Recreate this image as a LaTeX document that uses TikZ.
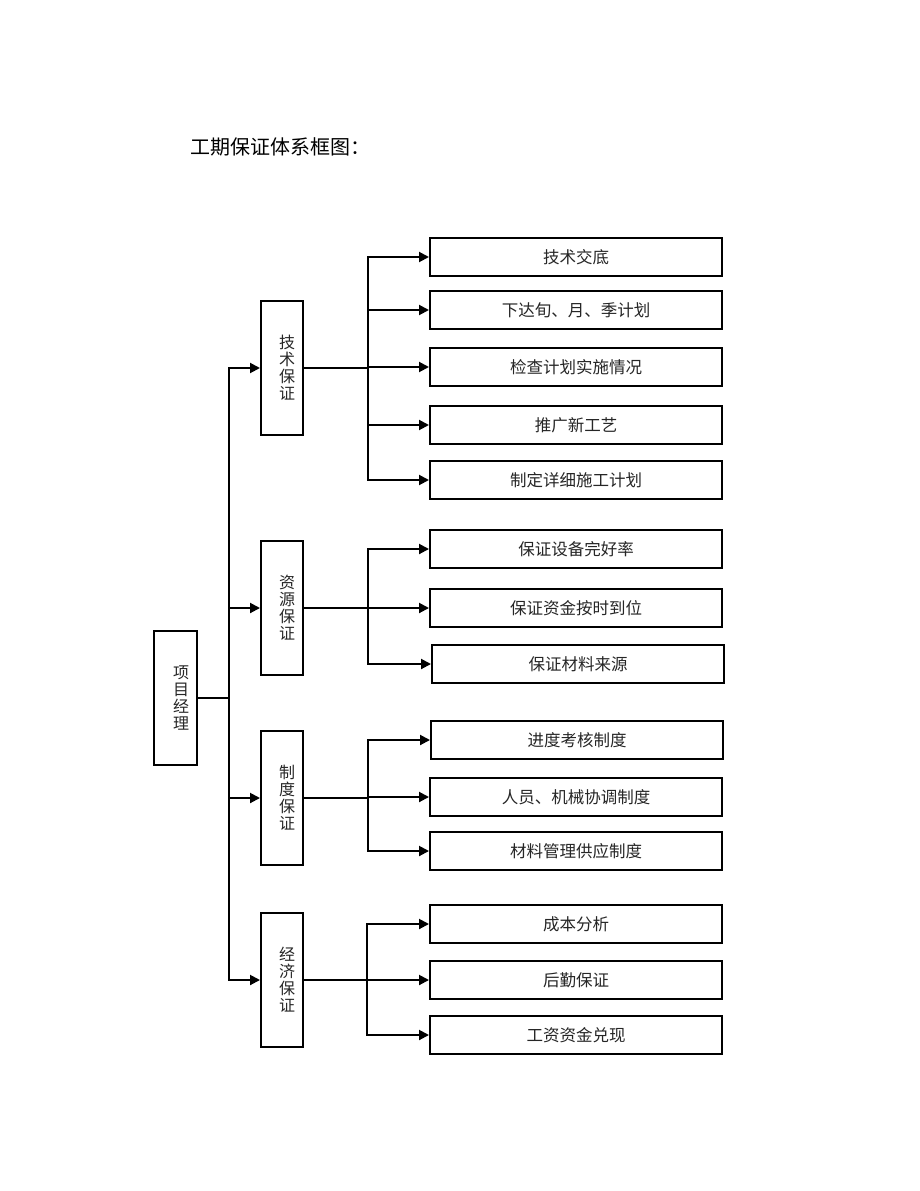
\documentclass[tikz,border=0pt]{standalone}
\usepackage{fontspec}
\newfontfamily\cjk{Noto Sans CJK SC}
\usetikzlibrary{arrows.meta}
\begin{document}
\begin{tikzpicture}[x=1pt,y=-1pt,
  box/.style={draw=black,line width=2pt,inner sep=0pt,fill=white},
  leaf/.style={box,minimum width=292pt,minimum height=38pt,font=\cjk\fontsize{16.5}{17}\selectfont,text=black!85},
  midbox/.style={box,minimum width=42pt,minimum height=134pt},
  vtext/.style={font=\cjk\fontsize{16}{17}\selectfont,align=center,inner sep=0pt,text=black!85},
  arr/.style={line width=2pt,-{Triangle[length=10pt,width=10pt]}},
  ln/.style={line width=2pt}]
\useasboundingbox (0,0) rectangle (920,1191);
\node[anchor=west,font=\cjk\fontsize{20}{22}\selectfont,inner sep=0pt] (title) at (190,147) {工期保证体系框图：};

% project manager
\node[box,minimum width=43pt,minimum height=134pt] (pm) at (175.5,698) {};
\node[vtext] (pmt) at (181,698) {项\\目\\经\\理};

% level 2
\node[midbox] (s1) at (282,368) {};
\node[vtext] (s1t) at (287,368) {技\\术\\保\\证};
\node[midbox] (s2) at (282,608) {};
\node[vtext] (s2t) at (287,608) {资\\源\\保\\证};
\node[midbox] (s3) at (282,798) {};
\node[vtext] (s3t) at (287,798) {制\\度\\保\\证};
\node[midbox] (s4) at (282,980) {};
\node[vtext] (s4t) at (287,980) {经\\济\\保\\证};

% leaves
\node[leaf] (a1) at (576,257) {技术交底};
\node[leaf] (a2) at (576,310) {下达旬、月、季计划};
\node[leaf] (a3) at (576,367) {检查计划实施情况};
\node[leaf] (a4) at (576,425) {推广新工艺};
\node[leaf] (a5) at (576,480) {制定详细施工计划};

\node[leaf] (b1) at (576,549) {保证设备完好率};
\node[leaf] (b2) at (576,608) {保证资金按时到位};
\node[leaf] (b3) at (578,664) {保证材料来源};

\node[leaf] (c1) at (577,740) {进度考核制度};
\node[leaf] (c2) at (576,797) {人员、机械协调制度};
\node[leaf] (c3) at (576,851) {材料管理供应制度};

\node[leaf] (d1) at (576,924) {成本分析};
\node[leaf] (d2) at (576,980) {后勤保证};
\node[leaf] (d3) at (576,1035) {工资资金兑现};

% trunk
\coordinate (j0) at (229,698);
\draw[ln] (pm.east) -- (j0);
\foreach \s in {s1,s2,s3,s4} \draw[arr] (j0) |- (\s.west);

% branches
\coordinate (k1) at (368,368);
\draw[ln] (s1.east) -- (k1);
\foreach \t in {a1,a2,a3,a4,a5} \draw[arr] (k1) |- (\t.west);
\coordinate (k2) at (368,608);
\draw[ln] (s2.east) -- (k2);
\foreach \t in {b1,b2,b3} \draw[arr] (k2) |- (\t.west);
\coordinate (k3) at (368,798);
\draw[ln] (s3.east) -- (k3);
\foreach \t in {c1,c2,c3} \draw[arr] (k3) |- (\t.west);
\coordinate (k4) at (367,980);
\draw[ln] (s4.east) -- (k4);
\foreach \t in {d1,d2,d3} \draw[arr] (k4) |- (\t.west);
\end{tikzpicture}
\end{document}
